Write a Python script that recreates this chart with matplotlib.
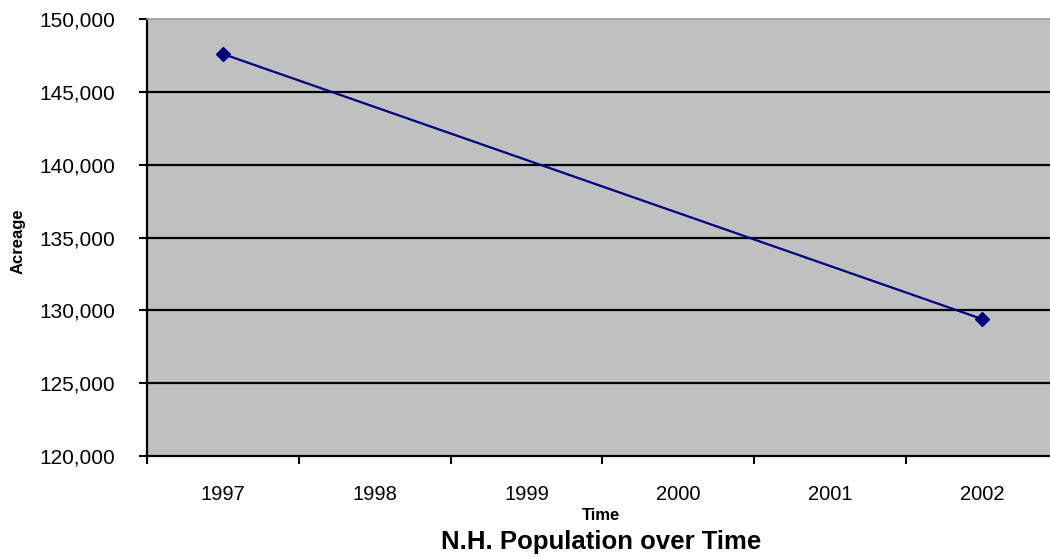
import matplotlib
matplotlib.use("Agg")
import matplotlib.pyplot as plt
from matplotlib.ticker import FuncFormatter, FixedLocator

years = ['1997', '1998', '1999', '2000', '2001', '2002']
point_years = ['1997', '2002']
acreage = [147600, 129400]

plt.rcParams['font.family'] = ['Liberation Sans', 'DejaVu Sans']


def plot_data():
    fig = plt.figure(figsize=(10.5, 5.57), dpi=100)
    ax = fig.add_axes([147 / 1050, 101 / 557, 911 / 1050, 437 / 557])
    ax.set_facecolor('#C0C0C0')

    xs = [years.index(y) for y in point_years]
    ax.plot(xs, acreage, color='#000080', lw=1.6, marker='D', markersize=7,
            zorder=3, clip_on=False)

    ax.set_xlim(-0.5, len(years) - 0.5)
    ax.set_ylim(120000, 150000)
    ax.set_yticks(range(120000, 150001, 5000))
    ax.yaxis.set_major_formatter(FuncFormatter(lambda v, p: f'{int(v):,}'))

    # ticks on category boundaries, labels in the middle
    ax.xaxis.set_major_locator(FixedLocator([i - 0.5 for i in range(len(years) + 1)]))
    ax.xaxis.set_minor_locator(FixedLocator(range(len(years))))
    ax.set_xticklabels([], minor=False)
    ax.set_xticklabels(years, minor=True, fontsize=14.5)
    ax.tick_params(axis='x', which='minor', length=0, pad=21)
    ax.tick_params(axis='x', which='major', length=6, width=1.5, color='black')
    ax.tick_params(axis='y', length=6, width=1.5, labelsize=15, pad=17)

    ax.yaxis.grid(True, color='black', lw=1.6)
    ax.get_ygridlines()[-1].set_visible(False)
    ax.get_ygridlines()[0].set_visible(False)

    ax.spines['left'].set_linewidth(1.6)
    ax.spines['bottom'].set_linewidth(1.6)
    ax.spines['top'].set_color('#999999')
    ax.spines['top'].set_linewidth(1.2)
    ax.spines['right'].set_visible(False)

    ax.set_ylabel('Acreage', fontsize=12, fontweight='bold')
    ax.yaxis.set_label_coords((26 - 147) / 911, (456 - 241) / 437)
    fig.text(601 / 1050, 1 - 520 / 557, 'Time', ha='center', va='baseline',
             fontsize=12, fontweight='bold')
    fig.text(601 / 1050, 1 - 549 / 557, 'N.H. Population over Time', ha='center',
             va='baseline', fontsize=18.5, fontweight='bold')

    fig.savefig('out.png', dpi=100)


def main():
    plot_data()


if __name__ == "__main__":
    main()
